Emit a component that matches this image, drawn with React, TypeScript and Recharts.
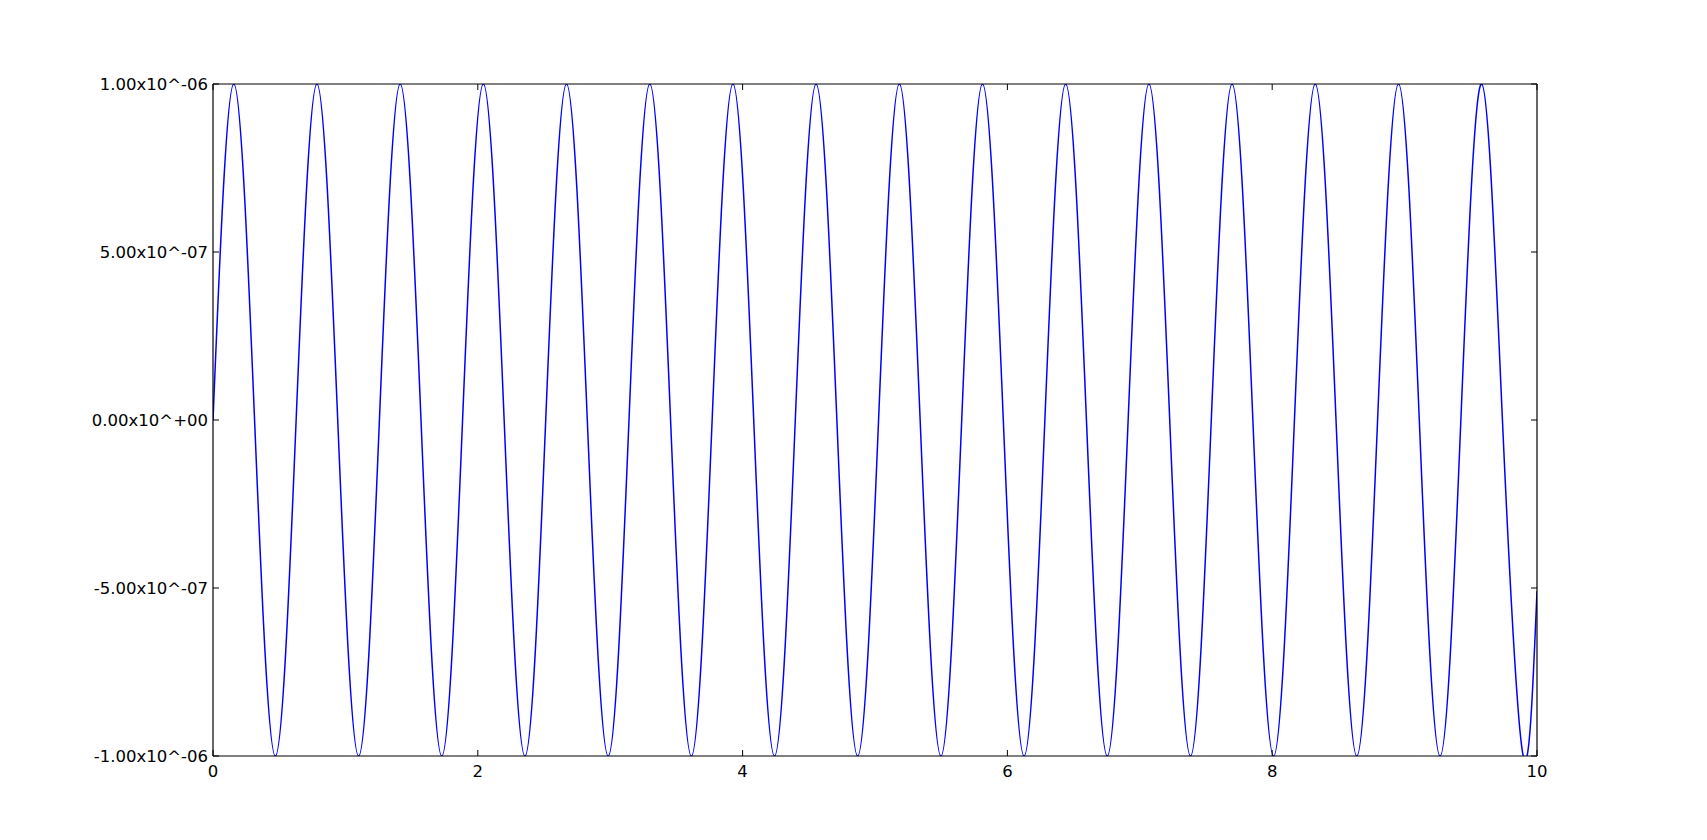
import React from "react";
import { LineChart, Line, XAxis, YAxis } from "recharts";

// sample positions: zero crossings, crests and troughs
const xValues = [
  0, 0.157, 0.314, 0.471, 0.628, 0.785, 0.942, 1.1, 1.257, 1.414, 1.571, 1.728,
  1.885, 2.042, 2.199, 2.356, 2.513, 2.67, 2.827, 2.985, 3.142, 3.299, 3.456,
  3.613, 3.77, 3.927, 4.084, 4.241, 4.398, 4.555, 4.712, 4.869, 5.027, 5.184,
  5.341, 5.498, 5.655, 5.812, 5.969, 6.126, 6.283, 6.44, 6.597, 6.754, 6.912,
  7.069, 7.226, 7.383, 7.54, 7.697, 7.854, 8.011, 8.168, 8.325, 8.482, 8.639,
  8.796, 8.954, 9.111, 9.268, 9.425, 9.582, 9.739, 9.896, 10,
];

// values in units of 1e-6
const yValues = [
  0, 1, 0, -1, 0, 1, 0, -1, 0, 1, 0, -1, 0, 1, 0, -1,
  0, 1, 0, -1, 0, 1, 0, -1, 0, 1, 0, -1, 0, 1, 0, -1,
  0, 1, 0, -1, 0, 1, 0, -1, 0, 1, 0, -1, 0, 1, 0, -1,
  0, 1, 0, -1, 0, 1, 0, -1, 0, 1, 0, -1, 0, 1, 0, -1,
  -0.51,
];

const xTicks = [0, 2, 4, 6, 8, 10];
const yTicks = [-1, -0.5, 0, 0.5, 1];
const yTickLabels = [
  "-1.00x10^-06",
  "-5.00x10^-07",
  "0.00x10^+00",
  "5.00x10^-07",
  "1.00x10^-06",
];

const data = xValues.map((x, i) => ({ x, y: yValues[i] }));

const FONT = "DejaVu Sans, sans-serif";
const FONT_SIZE = 16.5;
const TICK_LEN = 6;

function BottomTick({ x, y, payload }: any) {
  return (
    <g>
      <line x1={x} x2={x} y1={y} y2={y - TICK_LEN} stroke="#000" />
      <text
        x={x}
        y={y + 21}
        textAnchor="middle"
        fontFamily={FONT}
        fontSize={FONT_SIZE}
        fill="#000"
      >
        {payload.value}
      </text>
    </g>
  );
}

function TopTick({ x, y }: any) {
  return <line x1={x} x2={x} y1={y} y2={y + TICK_LEN} stroke="#000" />;
}

function LeftTick({ x, y, payload }: any) {
  const idx = yTicks.indexOf(payload.value);
  return (
    <g>
      <line x1={x} x2={x + TICK_LEN} y1={y} y2={y} stroke="#000" />
      <text
        x={x - 5}
        y={y}
        dy="0.36em"
        textAnchor="end"
        fontFamily={FONT}
        fontSize={FONT_SIZE}
        fill="#000"
      >
        {yTickLabels[idx]}
      </text>
    </g>
  );
}

function RightTick({ x, y }: any) {
  return <line x1={x} x2={x - TICK_LEN} y1={y} y2={y} stroke="#000" />;
}

export default function App() {
  return (
    <div
      style={{
        position: "absolute",
        left: 0,
        top: 0,
        width: 1707,
        height: 840,
        background: "#fff",
      }}
    >
      <LineChart
        width={1707}
        height={840}
        data={data}
        margin={{ top: 74, right: 160, bottom: 54, left: 13 }}
      >
        <XAxis
          xAxisId="bottom"
          dataKey="x"
          type="number"
          domain={[0, 10]}
          ticks={xTicks}
          allowDataOverflow
          height={30}
          tickSize={0}
          tickMargin={0}
          tickLine={false}
          axisLine={{ stroke: "#000", strokeWidth: 1.2 }}
          tick={<BottomTick />}
        />
        <XAxis
          xAxisId="top"
          orientation="top"
          dataKey="x"
          type="number"
          domain={[0, 10]}
          ticks={xTicks}
          allowDataOverflow
          height={10}
          tickSize={0}
          tickMargin={0}
          tickLine={false}
          axisLine={{ stroke: "#000", strokeWidth: 1.2 }}
          tick={<TopTick />}
        />
        <YAxis
          yAxisId="left"
          type="number"
          domain={[-1, 1]}
          ticks={yTicks}
          allowDataOverflow
          width={200}
          tickSize={0}
          tickMargin={0}
          tickLine={false}
          axisLine={{ stroke: "#000", strokeWidth: 1.2 }}
          tick={<LeftTick />}
        />
        <YAxis
          yAxisId="right"
          orientation="right"
          type="number"
          domain={[-1, 1]}
          ticks={yTicks}
          allowDataOverflow
          width={10}
          tickSize={0}
          tickMargin={0}
          tickLine={false}
          axisLine={{ stroke: "#000", strokeWidth: 1.2 }}
          tick={<RightTick />}
        />
        <Line
          xAxisId="bottom"
          yAxisId="left"
          type="natural"
          dataKey="y"
          stroke="#0000ff"
          strokeWidth={1.5}
          dot={false}
          activeDot={false}
          isAnimationActive={false}
        />
      </LineChart>
    </div>
  );
}
